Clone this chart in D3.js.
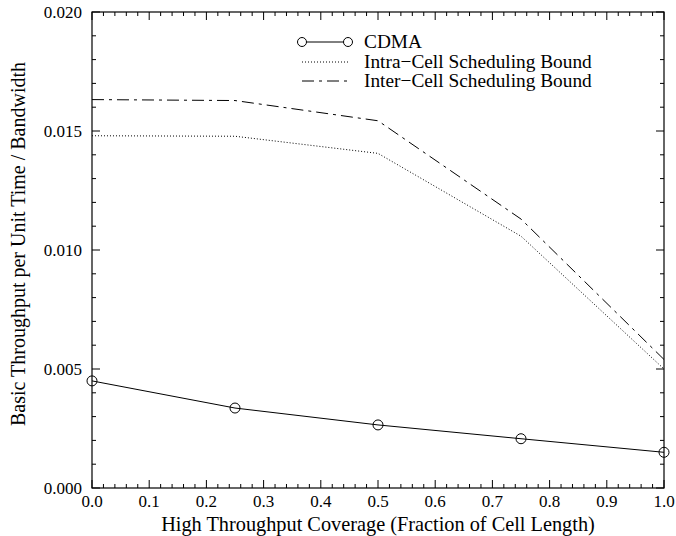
<!DOCTYPE html>
<html><head><meta charset="utf-8">
<script src="https://cdn.jsdelivr.net/npm/d3@7"></script>
<style>body{margin:0;background:#fff}svg{display:block}svg text{font-family:"Liberation Serif","Times New Roman",Tinos}</style>
</head><body><svg id="c" width="676" height="536" font-family="Liberation Serif, Times New Roman, Tinos"></svg>
<script>
const xValues = [0.0, 0.25, 0.5, 0.75, 1.0];
const cdma = [0.0045, 0.00336, 0.00265, 0.00207, 0.0015];
const intraBound = [0.01480, 0.01478, 0.01406, 0.01058, 0.00500];
const interBound = [0.01632, 0.01628, 0.01543, 0.01130, 0.00540];
const seriesNames = ["CDMA", "Intra\u2212Cell Scheduling Bound", "Inter\u2212Cell Scheduling Bound"];
const xTicks = [0,0.1,0.2,0.3,0.4,0.5,0.6,0.7,0.8,0.9,1.0];
const yTicks = [0,0.005,0.010,0.015,0.020];
const xTitle = "High Throughput Coverage (Fraction of Cell Length)";
const yTitle = "Basic Throughput per Unit Time / Bandwidth";

const FONT = '"Liberation Serif", "Times New Roman", Tinos';
const svg = d3.select("#c");
const L=92, R=664, T=12, B=488;
const x = d3.scaleLinear().domain([0,1]).range([L,R]);
const y = d3.scaleLinear().domain([0,0.02]).range([B,T]);

function fit(sel, target){
  const n = sel.node();
  const w = n.getComputedTextLength();
  const fs = parseFloat(sel.attr("font-size"));
  if (w>0) sel.attr("font-size", (fs*target/w).toFixed(2));
  return sel;
}

svg.append("rect").attr("x",L).attr("y",T).attr("width",R-L).attr("height",B-T)
  .attr("fill","none").attr("stroke","#000").attr("stroke-width",1.2);

const xMinor = d3.range(0,1.0001,0.02);
const yMinor = d3.range(0,0.02001,0.001);
const g = svg.append("g").attr("stroke","#000").attr("stroke-width",1);
xMinor.forEach(v=>{
  const major = Math.abs(v*10-Math.round(v*10))<1e-6;
  const len = major?8:4;
  g.append("line").attr("x1",x(v)).attr("x2",x(v)).attr("y1",B).attr("y2",B-len);
  g.append("line").attr("x1",x(v)).attr("x2",x(v)).attr("y1",T).attr("y2",T+len);
});
yMinor.forEach(v=>{
  const major = Math.abs(v/0.005-Math.round(v/0.005))<1e-6;
  const len = major?8:4;
  g.append("line").attr("y1",y(v)).attr("y2",y(v)).attr("x1",L).attr("x2",L+len);
  g.append("line").attr("y1",y(v)).attr("y2",y(v)).attr("x1",R).attr("x2",R-len);
});

svg.append("g").selectAll("text").data(xTicks).join("text")
  .attr("x",d=>x(d)).attr("y",507).attr("text-anchor","middle").attr("font-size",17)
  .attr("font-family",FONT).style("font-family",FONT).text(d=>d.toFixed(1));
svg.append("g").selectAll("text").data(yTicks).join("text")
  .attr("x",82).attr("y",d=>y(d)+6).attr("text-anchor","end").attr("font-size",17)
  .attr("font-family",FONT).style("font-family",FONT).text(d=>d.toFixed(3));

fit(svg.append("text").attr("x",378).attr("y",531).attr("text-anchor","middle").attr("font-size",20)
  .attr("font-family",FONT).style("font-family",FONT).text(xTitle), 434);
fit(svg.append("text").attr("transform",`translate(25,244) rotate(-90)`).attr("text-anchor","middle").attr("font-size",18)
  .attr("font-family",FONT).style("font-family",FONT).text(yTitle), 364);

const line = d3.line().x((d,i)=>x(xValues[i])).y(d=>y(d));
const styles = [
  {data:cdma, dash:null},
  {data:intraBound, dash:"1,2"},
  {data:interBound, dash:"12,5,3,5"}
];
styles.forEach(s=>{
  svg.append("path").datum(s.data).attr("d",line).attr("fill","none")
    .attr("stroke","#000").attr("stroke-width",1).attr("stroke-dasharray",s.dash);
});
svg.append("g").selectAll("circle").data(cdma).join("circle")
  .attr("cx",(d,i)=>x(xValues[i])).attr("cy",d=>y(d)).attr("r",5)
  .attr("fill","none").attr("stroke","#000").attr("stroke-width",1);

const lg = svg.append("g");
const ly = [42,62,81];
const t0 = fit(lg.append("text").attr("x",364).attr("y",ly[0]+6).attr("font-size",19)
  .attr("font-family",FONT).style("font-family",FONT).text(seriesNames[0]), 58);
const lfs = t0.attr("font-size");
styles.forEach((s,i)=>{
  lg.append("line").attr("x1",302).attr("x2",348).attr("y1",ly[i]).attr("y2",ly[i])
    .attr("stroke","#000").attr("stroke-width",1).attr("stroke-dasharray",s.dash);
  if (i>0) lg.append("text").attr("x",364).attr("y",ly[i]+6).attr("font-size",lfs)
    .attr("font-family",FONT).style("font-family",FONT).text(seriesNames[i]);
});
[302,348].forEach(cx=>lg.append("circle").attr("cx",cx).attr("cy",ly[0]).attr("r",4.5)
  .attr("fill","#fff").attr("stroke","#000"));
</script></body></html>
